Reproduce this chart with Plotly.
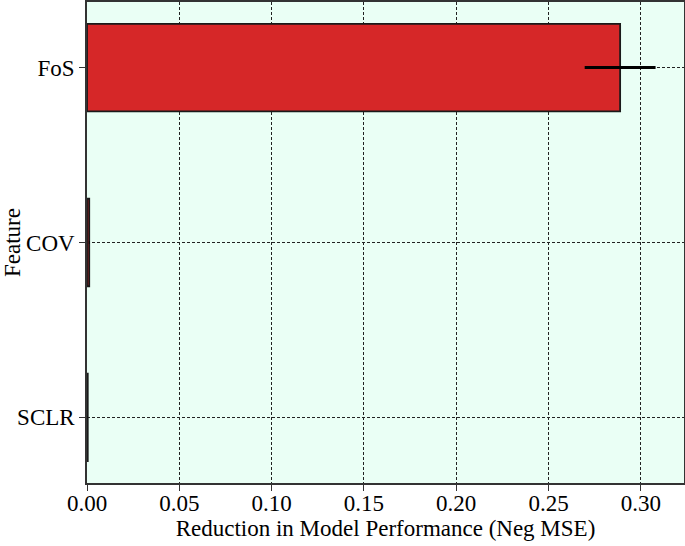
import plotly.graph_objects as go

features = ["SCLR", "COV", "FoS"]
importance = [0.0004, 0.0012, 0.2888]
importance_std = [0.0001, 0.0002, 0.0192]

fig = go.Figure()
fig.add_trace(go.Bar(
    y=features, x=importance, orientation="h", width=0.5,
    marker=dict(color="#d62728", line=dict(color="#1a1a1a", width=1.8)),
    error_x=dict(type="data", array=importance_std, color="black",
                 thickness=3, width=0),
))

font = "Liberation Serif, Times New Roman, serif"
axis_style = dict(
    showline=True, mirror=True, linecolor="#333333", linewidth=1.5,
    ticks="outside", ticklen=6, tickwidth=1.2, tickcolor="#333333",
    showgrid=True, gridcolor="#222222", griddash="3px,2px", gridwidth=0.8,
    zeroline=False, automargin=False,
    tickfont=dict(family=font, size=23, color="black"),
)
fig.update_xaxes(axis_style, range=[0, 0.3234], dtick=0.05, tickformat=".2f",
                 ticklabelstandoff=-7,
                 title=dict(text="Reduction in Model Performance (Neg MSE)",
                            font=dict(family=font, size=23, color="black"),
                            standoff=4))
fig.update_yaxes(axis_style, range=[-0.375, 2.375],
                 title=dict(text="Feature",
                            font=dict(family=font, size=23, color="black"),
                            standoff=4))

fig.update_layout(
    width=685, height=546,
    margin=dict(l=87, r=1, t=2, b=63),
    plot_bgcolor="#eafff5", paper_bgcolor="white",
    showlegend=False,
)

# drop the page's default body margin so the figure sits at the window corner
fig.write_html(
    "out.html",
    config={"displayModeBar": False},
    post_script="document.body.style.margin='0px';"
                "document.body.style.overflow='hidden';",
)
